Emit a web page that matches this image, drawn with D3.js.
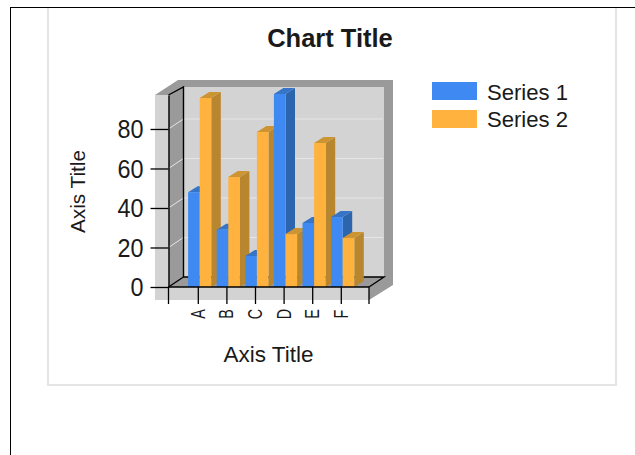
<!DOCTYPE html>
<html><head><meta charset="utf-8">
<script src="https://cdn.jsdelivr.net/npm/d3@7"></script>
<style>
html,body{margin:0;padding:0;background:#fff;overflow:hidden}
svg{display:block}
text{font-family:"Liberation Sans",Arial,sans-serif;fill:#1a1a1a}
</style></head><body>
<svg id="c" width="635" height="455"></svg>
<script>
const categories = ["A","B","C","D","E","F"];
const seriesNames = ["Series 1","Series 2"];
const series1 = [48,29,15.7,97.7,32.4,35.4];
const series2 = [95.7,55.7,78.5,26.8,72.9,24.8];
const yTicks = [0,20,40,60,80];
const seriesColors = [
  {front:"#3f8af2",side:"#2d64ae",top:"#3674c8"},
  {front:"#ffb23e",side:"#b8862e",top:"#cc9433"}
];
const titleText = "Chart Title", axisTitle = "Axis Title";

const svg = d3.select("#c");
const L=168.5,R=369,B=287,T=95;      // front plane
const dx=15,dy=10;                   // wall depth
const barDx=9.5,barDy=6;             // bar depth
const y = d3.scaleLinear().domain([0,97.2]).range([B,T]);
const x = d3.scaleBand().domain(categories).range([184,355.6]);
const barW = 11.6, barShift = 1.4;

// panel (open at the top, under the black rule)
svg.append("path").attr("d","M48,8V385H616V8").attr("fill","none").attr("stroke","#e5e5e5").attr("stroke-width",2.2);
// black rules
svg.append("path").attr("d","M10.5,455V7.5H635").attr("fill","none").attr("stroke","#000").attr("stroke-width",1).attr("shape-rendering","crispEdges");

const poly=(pts,fill,stroke)=>svg.append("polygon").attr("points",pts.map(p=>p.join(",")).join(" "))
  .attr("fill",fill).attr("stroke",stroke||"none");
// light left and bottom bands, back wall
poly([[155,95],[L,95],[L,B],[R,B],[R,300],[155,300]],"#d3d3d3");
poly([[L+dx,B-dy],[L+dx,T-dy+1],[R+dx,T-dy+1],[R+dx,B-dy]],"#d3d3d3");
// dark top and right edges
poly([[155,95],[178,80],[393,80],[393,285],[R,300],[R,B],[R+dx,B-dy],[R+dx,87],[L+dx,87],[L,95]],"#9a9a9a");
// side wall and floor
poly([[L,T],[L+dx,87],[L+dx,B-dy],[L,B]],"#9a9a9a");
poly([[L,B],[L+dx,B-dy],[R+dx,B-dy],[R,B]],"#9a9a9a");

// gridlines
yTicks.slice(1).forEach(v=>{
  svg.append("path").attr("d",`M${L},${y(v)}L${L+dx},${y(v)-dy}H${R+dx-1}`)
    .attr("fill","none").attr("stroke","#e6e6e6").attr("stroke-width",1);
});

// depth edges in black
svg.append("path").attr("d",`M${L},${T}L${L+dx},87V${B-dy}L${L},${B}M${L+dx},${B-dy}H${R+dx}L${R},${B}`)
  .attr("fill","none").attr("stroke","#000").attr("stroke-width",1.4);

// bars
categories.forEach((c,i)=>{
  [series1,series2].forEach((vals,s)=>{
    const col=seriesColors[s];
    const x0=x(c)+x.bandwidth()/2+barShift-barW+s*barW, x1=x0+barW, yt=y(vals[i]);
    const g=svg.append("g");
    g.append("polygon").attr("points",`${x1},${B} ${x1+barDx},${B-barDy} ${x1+barDx},${yt-barDy} ${x1},${yt}`).attr("fill",col.side);
    g.append("polygon").attr("points",`${x0},${yt} ${x0+barDx},${yt-barDy} ${x1+barDx},${yt-barDy} ${x1},${yt}`).attr("fill",col.top);
    g.append("rect").attr("x",x0).attr("y",yt).attr("width",barW).attr("height",B-yt).attr("fill",col.front);
  });
});

// y axis
const ya=svg.append("g").attr("transform",`translate(${L},0)`)
  .call(d3.axisLeft(y).tickValues(yTicks).tickSize(18).tickPadding(7).tickSizeOuter(0));
ya.select(".domain").attr("stroke","#000").attr("stroke-width",1.4);
ya.selectAll("line").attr("stroke","#000").attr("stroke-width",1.3);
ya.selectAll("text").attr("font-size",26).attr("fill","#1a1a1a").attr("dy","0.34em").attr("font-family","Liberation Sans")
  .attr("textLength",26).attr("lengthAdjust","spacingAndGlyphs");
ya.selectAll("g.tick").filter(d=>d===0).selectAll("text").attr("textLength",13);

// x axis
const xa=svg.append("g").attr("transform",`translate(0,${B})`)
  .call(d3.axisBottom(x).tickSize(17).tickSizeOuter(0).tickFormat(""));
xa.select(".domain").remove();
xa.selectAll("line").attr("stroke","#000").attr("stroke-width",1.3);
[L,R].forEach(px=>xa.append("line").attr("x1",px).attr("x2",px).attr("y1",0).attr("y2",17).attr("stroke","#000").attr("stroke-width",1.3));
svg.append("line").attr("x1",L).attr("x2",R).attr("y1",B).attr("y2",B).attr("stroke","#000").attr("stroke-width",1.4);
categories.forEach(c=>{
  svg.append("text").text(c).attr("transform",`translate(${x(c)+x.bandwidth()/2+6.5},314) rotate(-90) scale(0.72,1)`)
    .attr("text-anchor","middle").attr("font-size",20);
});

// titles
svg.append("text").text(titleText).attr("x",330).attr("y",47).attr("text-anchor","middle").attr("font-size",25.5).attr("font-weight","bold");
svg.append("text").text(axisTitle).attr("x",268.5).attr("y",362).attr("text-anchor","middle").attr("font-size",22)
  .attr("textLength",90).attr("lengthAdjust","spacingAndGlyphs");
svg.append("text").text(axisTitle).attr("transform","translate(85,191.5) rotate(-90)").attr("text-anchor","middle").attr("font-size",21)
  .attr("textLength",83).attr("lengthAdjust","spacingAndGlyphs");

// legend
seriesNames.forEach((n,i)=>{
  svg.append("rect").attr("x",432).attr("y",82+i*28).attr("width",45).attr("height",18).attr("fill",seriesColors[i].front);
  svg.append("text").text(n).attr("x",487).attr("y",99.5+i*27.5).attr("font-size",22)
    .attr("textLength",81).attr("lengthAdjust","spacingAndGlyphs");
});
</script>
</body></html>
